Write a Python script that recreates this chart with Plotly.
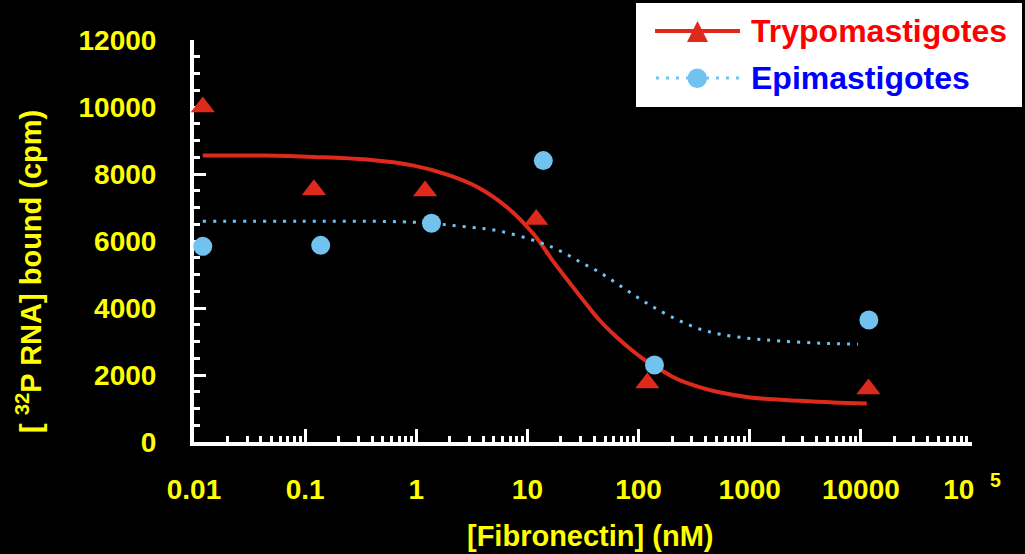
import plotly.graph_objects as go

# ---------------- data ----------------
conc_tryp = [0.012, 0.12, 1.2, 12, 120, 11700]
bound_tryp = [10000, 7530, 7490, 6640, 1760, 1580]

conc_epi = [0.012, 0.138, 1.37, 13.9, 139, 11800]
bound_epi = [5840, 5870, 6530, 8400, 2300, 3640]

fit_tryp_x = [0.012, 0.043, 0.12, 0.36, 0.95, 1.9, 3.5, 6.6, 11.4, 17, 24, 34, 45,
              64, 90, 119, 157, 222, 359, 507, 1010, 2840, 5620, 11300]
fit_tryp_y = [8550, 8550, 8510, 8430, 8250, 7980, 7620, 7000, 6200, 5400, 4750, 4110, 3620,
              3120, 2700, 2400, 2160, 1880, 1630, 1500, 1330, 1230, 1180, 1150]

fit_epi_x = [0.012, 0.0915, 0.95, 2.51, 5.73, 13.1, 19.8, 30, 45.4, 68.6, 104, 157,
             237, 359, 543, 1010, 1880, 4300, 9440]
fit_epi_y = [6590, 6590, 6560, 6440, 6290, 5950, 5700, 5370, 5050, 4660, 4260, 3910,
             3610, 3365, 3215, 3090, 3015, 2950, 2920]

x_tickvals = [0.01, 0.1, 1, 10, 100, 1000, 10000, 100000]
x_ticktext = ["0.01", "0.1", "1", "10", "100", "1000", "10000", "10\u00a0\u00a0<sup>5</sup>"]
y_tickvals = [0, 2000, 4000, 6000, 8000, 10000, 12000]
y_ticktext = ["0", "2000", "4000", "6000", "8000", "10000", "12000"]

series_names = ["Trypomastigotes", "Epimastigotes"]
x_title = "[Fibronectin] (nM)"
y_title = "[ <sup>32</sup>P RNA] bound (cpm)"

# ---------------- styles ----------------
RED = "#dd2a1c"
BLUE = "#72c2f0"
YELLOW = "#ffff00"
FONT = "Liberation Sans, Arial, sans-serif"

W_FIG, H_FIG = 1025, 554
L, T, PW, PH = 194, 40, 778, 402

def px_x(px):
    return (px - L) / PW

def px_y(py):
    return (T + PH - py) / PH

minor_x = [m * 10 ** e for e in range(-2, 5) for m in range(2, 10)]

fig = go.Figure()
fig.add_trace(go.Scatter(x=fit_tryp_x, y=fit_tryp_y, mode="lines",
                         line=dict(color=RED, width=4, shape="spline", smoothing=1.0),
                         showlegend=False, hoverinfo="skip"))
fig.add_trace(go.Scatter(x=fit_epi_x, y=fit_epi_y, mode="lines",
                         line=dict(color=BLUE, width=3, dash="3px,7px", shape="spline", smoothing=1.0),
                         showlegend=False, hoverinfo="skip"))
fig.add_trace(go.Scatter(x=conc_tryp, y=bound_tryp, mode="markers", name=series_names[0],
                         marker=dict(symbol="triangle-up", size=21, color=RED),
                         showlegend=False, cliponaxis=False))
fig.add_trace(go.Scatter(x=conc_epi, y=bound_epi, mode="markers", name=series_names[1],
                         marker=dict(symbol="circle", size=19, color=BLUE),
                         showlegend=False, cliponaxis=False))

fig.update_layout(
    width=W_FIG, height=H_FIG,
    margin=dict(l=L, r=W_FIG - L - PW, t=T, b=H_FIG - T - PH, pad=0),
    paper_bgcolor="black", plot_bgcolor="black",
    font=dict(family=FONT, color=YELLOW),
    showlegend=False,
)

fig.update_xaxes(
    type="log", range=[-2, 5],
    tickmode="array", tickvals=x_tickvals, ticktext=x_ticktext,
    tickfont=dict(size=28, color=YELLOW, family=FONT, weight="bold"),
    ticks="inside", ticklen=13, tickwidth=3, tickcolor="white",
    ticklabelstandoff=19,
    minor=dict(tickmode="array", tickvals=minor_x, ticks="inside", ticklen=6,
               tickwidth=3, tickcolor="white"),
    showline=True, linecolor="white", linewidth=4,
    showgrid=False, zeroline=False, layer="below traces",
)
fig.update_yaxes(
    range=[0, 12000],
    tickmode="array", tickvals=y_tickvals, ticktext=y_ticktext,
    tickfont=dict(size=28, color=YELLOW, family=FONT, weight="bold"),
    ticks="inside", ticklen=12, tickwidth=3, tickcolor="white",
    ticklabelstandoff=28,
    minor=dict(dtick=500, ticks="inside", ticklen=6, tickwidth=3, tickcolor="white"),
    showline=True, linecolor="white", linewidth=4,
    showgrid=False, zeroline=False, layer="below traces",
)

# axis titles
fig.add_annotation(text=x_title, x=px_x(590), y=px_y(536), xref="paper", yref="paper",
                   showarrow=False, xanchor="center", yanchor="middle",
                   font=dict(size=29, color=YELLOW, family=FONT, weight="bold"))
fig.add_annotation(text=y_title, x=px_x(29), y=px_y(272), xref="paper", yref="paper",
                   showarrow=False, xanchor="center", yanchor="middle", textangle=-90,
                   font=dict(size=29, color=YELLOW, family=FONT, weight="bold"))

# legend box (drawn by hand to match the wide sample lines)
shapes = [
    dict(type="rect", xref="paper", yref="paper", x0=px_x(636), x1=px_x(1022),
         y0=px_y(107), y1=px_y(3), fillcolor="white", line=dict(width=0), layer="above"),
    dict(type="line", xref="paper", yref="paper", x0=px_x(655), x1=px_x(740),
         y0=px_y(31), y1=px_y(31), line=dict(color=RED, width=4), layer="above"),
    dict(type="path", xref="paper", yref="paper",
         path="M {:.5f},{:.5f} L {:.5f},{:.5f} L {:.5f},{:.5f} Z".format(
             px_x(687), px_y(42), px_x(708), px_y(42), px_x(697.5), px_y(21)),
         fillcolor=RED, line=dict(width=0), layer="above"),
    dict(type="line", xref="paper", yref="paper", x0=px_x(656), x1=px_x(740),
         y0=px_y(78), y1=px_y(78), line=dict(color=BLUE, width=3, dash="3px,7px"), layer="above"),
    dict(type="circle", xref="paper", yref="paper", x0=px_x(687.5), x1=px_x(707),
         y0=px_y(88), y1=px_y(68.5), fillcolor=BLUE, line=dict(width=0), layer="above"),
]
fig.update_layout(shapes=shapes)

fig.add_annotation(text=series_names[0], x=px_x(749), y=px_y(31), xref="paper", yref="paper",
                   showarrow=False, xanchor="left", yanchor="middle",
                   font=dict(size=32, color="#ff0000", family=FONT, weight="bold"))
fig.add_annotation(text=series_names[1], x=px_x(749), y=px_y(78), xref="paper", yref="paper",
                   showarrow=False, xanchor="left", yanchor="middle",
                   font=dict(size=32, color="#0000ff", family=FONT, weight="bold"))

fig.write_html(
    "out.html",
    config={"displayModeBar": False},
    post_script="document.body.style.margin='0px';document.body.style.background='black';",
)
